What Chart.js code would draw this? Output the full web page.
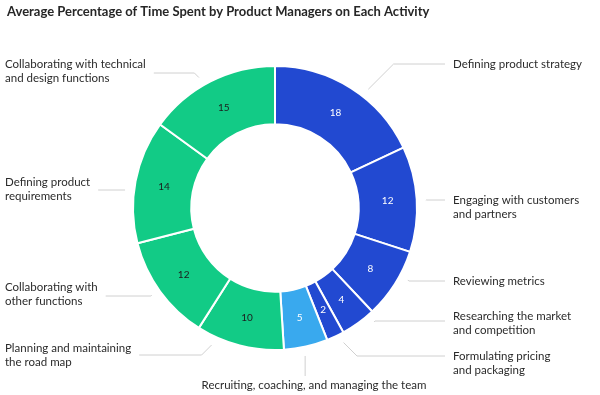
<!DOCTYPE html>
<html>
<head>
<meta charset="utf-8">
<script src="https://cdn.jsdelivr.net/npm/chart.js@4.4.1/dist/chart.umd.min.js"></script>
<style>
  html, body { margin: 0; padding: 0; background: #fff; }
  #wrap { position: relative; width: 600px; height: 395px; }
</style>
</head>
<body>
<div id="wrap"><canvas id="chart" width="600" height="395"></canvas></div>
<script>
// Data
const chartTitle = 'Average Percentage of Time Spent by Product Managers on Each Activity';
const activities = [
  ['Defining product strategy'],
  ['Engaging with customers', 'and partners'],
  ['Reviewing metrics'],
  ['Researching the market', 'and competition'],
  ['Formulating pricing', 'and packaging'],
  ['Recruiting, coaching, and managing the team'],
  ['Planning and maintaining', 'the road map'],
  ['Collaborating with', 'other functions'],
  ['Defining product', 'requirements'],
  ['Collaborating with technical', 'and design functions']
];
const shares = [18, 12, 8, 4, 2, 5, 10, 12, 14, 15];

// Styles
const BLUE = '#2249d1';
const LIGHT_BLUE = '#39a9ee';
const GREEN = '#12cb86';
const sliceColors = [BLUE, BLUE, BLUE, BLUE, BLUE, LIGHT_BLUE, GREEN, GREEN, GREEN, GREEN];
const valueColors = ['#fff', '#fff', '#fff', '#fff', '#fff', '#fff', '#1d1d1d', '#1d1d1d', '#1d1d1d', '#1d1d1d'];

// Label layout: text anchor, leader line row, and where the leader meets the ring (percent of circle)
const labelLayout = [
  { side: 'right', x: 453, y: 64, lineY: 64, at: 10.6 },
  { side: 'right', x: 453, y: 200, lineY: 200, at: 24.2 },
  { side: 'right', x: 453, y: 281, lineY: 281, at: 32.9 },
  { side: 'right', x: 453, y: 316, lineY: 321, at: 38.6 },
  { side: 'right', x: 453, y: 356, lineY: 356, at: 42.5 },
  { side: 'below', x: 314, y: 385, lineY: 376, at: 46.8 },
  { side: 'left', x: 5, y: 348, lineY: 355, at: 56.9 },
  { side: 'left', x: 5, y: 287, lineY: 296, at: 65.2 },
  { side: 'left', x: 5, y: 182, lineY: 190, at: 76.9 },
  { side: 'left', x: 5, y: 64, lineY: 73, at: 91.6 }
];

const FONT = 'Lato, "Open Sans", sans-serif';
const LINE_H = 14;

// Draws title, slice values, outside labels and leader lines
const annotations = {
  id: 'annotations',
  afterDraw(chart) {
    const ctx = chart.ctx;
    const arcs = chart.getDatasetMeta(0).data;
    if (!arcs.length) return;
    const cx = arcs[0].x;
    const cy = arcs[0].y;
    const outer = arcs[0].outerRadius;
    const inner = arcs[0].innerRadius;

    ctx.save();

    // Title
    ctx.fillStyle = '#262626';
    ctx.font = `bold 13px ${FONT}`;
    ctx.textAlign = 'left';
    ctx.textBaseline = 'middle';
    ctx.fillText(chartTitle, 7, 12);

    // Values inside slices
    ctx.font = `10px ${FONT}`;
    ctx.textAlign = 'center';
    arcs.forEach((arc, i) => {
      const mid = (arc.startAngle + arc.endAngle) / 2;
      const r = (inner + outer) / 2;
      ctx.fillStyle = valueColors[i];
      ctx.fillText(String(shares[i]), cx + Math.cos(mid) * r, cy + Math.sin(mid) * r);
    });

    // Leader lines and labels
    ctx.font = `11.5px ${FONT}`;
    activities.forEach((lines, i) => {
      const lay = labelLayout[i];
      const ang = -Math.PI / 2 + (lay.at / 100) * Math.PI * 2;
      const r = outer + 9;
      const sx = cx + Math.cos(ang) * r;
      const sy = cy + Math.sin(ang) * r;
      const widest = Math.max(...lines.map(l => ctx.measureText(l).width));

      ctx.strokeStyle = '#d0d0d0';
      ctx.lineWidth = 1;
      ctx.beginPath();
      ctx.moveTo(sx, sy);
      if (lay.side === 'below') {
        ctx.lineTo(sx, lay.lineY);
      } else {
        const dy = Math.abs(lay.lineY - sy);
        const dir = lay.side === 'right' ? 1 : -1;
        const ex = sx + dir * dy;
        ctx.lineTo(ex, lay.lineY);
        const endX = lay.side === 'right' ? lay.x - 8 : lay.x + widest + 8;
        ctx.lineTo(endX, lay.lineY);
      }
      ctx.stroke();

      ctx.fillStyle = '#2b2b2b';
      ctx.textAlign = lay.side === 'below' ? 'center' : 'left';
      lines.forEach((line, k) => {
        ctx.fillText(line, lay.x, lay.y + k * LINE_H);
      });
    });

    ctx.restore();
  }
};

new Chart(document.getElementById('chart'), {
  type: 'doughnut',
  data: {
    labels: activities,
    datasets: [{
      data: shares,
      backgroundColor: sliceColors,
      borderColor: '#ffffff',
      borderWidth: 2,
      hoverOffset: 0
    }]
  },
  options: {
    responsive: false,
    animation: false,
    cutout: '59%',
    layout: {
      padding: { left: 100, right: 150, top: 65, bottom: 44 }
    },
    plugins: {
      legend: { display: false },
      title: { display: false },
      tooltip: { enabled: false }
    }
  },
  plugins: [annotations]
});
</script>
</body>
</html>
